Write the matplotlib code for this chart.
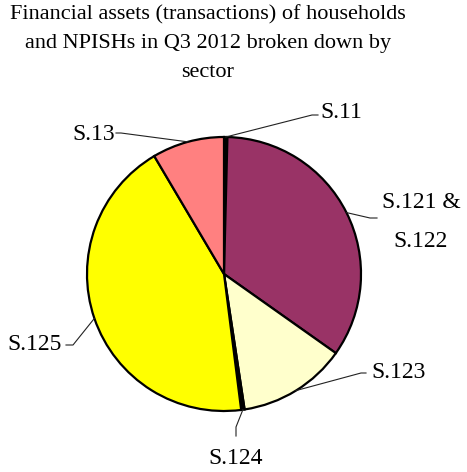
import numpy as np
import matplotlib
matplotlib.use("Agg")
import matplotlib.pyplot as plt

# sector shares (%) of financial asset transactions
sectors = ["S.11", "S.121 &\nS.122", "S.123", "S.124", "S.125", "S.13"]
shares = [0.4, 34.4, 12.8, 0.4, 43.5, 8.5]
colors = ["#000000", "#993366", "#FFFFCC", "#000000", "#FFFF00", "#FF8080"]

# label placement (figure pixels, origin top left) and leader elbow points
label_pos = [(341, 113), (421, 222), (399, 373), (236, 458), (35, 345), (94, 135)]
elbows = [[(312, 115), (318, 115)],
          [(370, 218), (377, 218)],
          [(361, 373), (366, 373)],
          [(236, 427), (236, 436)],
          [(73, 345), (66, 345)],
          [(121, 133), (116, 133)]]

W, H = 467, 472
CX, CY, R = 224, 274, 137

plt.rcParams['font.family'] = ['Liberation Serif', 'DejaVu Serif']


def px(x, y):
    # pixel position (top origin) to data coordinates
    return x, H - y


fig = plt.figure(figsize=(W / 100, H / 100), dpi=100)
ax = fig.add_axes([0, 0, 1, 1])

wedges, _ = ax.pie(shares, colors=colors, startangle=90, counterclock=False,
                   center=px(CX, CY), radius=R, frame=True,
                   wedgeprops=dict(edgecolor='black', linewidth=1.6))
ax.set_xlim(0, W)
ax.set_ylim(0, H)
ax.set_aspect('equal')
ax.axis('off')

for w, name, pos, elb in zip(wedges, sectors, label_pos, elbows):
    mid = np.deg2rad((w.theta1 + w.theta2) / 2)
    x0 = w.center[0] + w.r * np.cos(mid)
    y0 = w.center[1] + w.r * np.sin(mid)
    xs = [x0] + [px(*p)[0] for p in elb]
    ys = [y0] + [px(*p)[1] for p in elb]
    ax.plot(xs, ys, color='#222222', linewidth=0.8)
    ax.text(*px(*pos), name, ha='center', va='center', fontsize=17, linespacing=2.1)

ax.text(*px(208, 5), "Financial assets (transactions) of households\n"
        "and NPISHs in Q3 2012 broken down by\nsector",
        ha='center', va='top', fontsize=16, linespacing=1.7)

fig.savefig("out.png", dpi=100)
